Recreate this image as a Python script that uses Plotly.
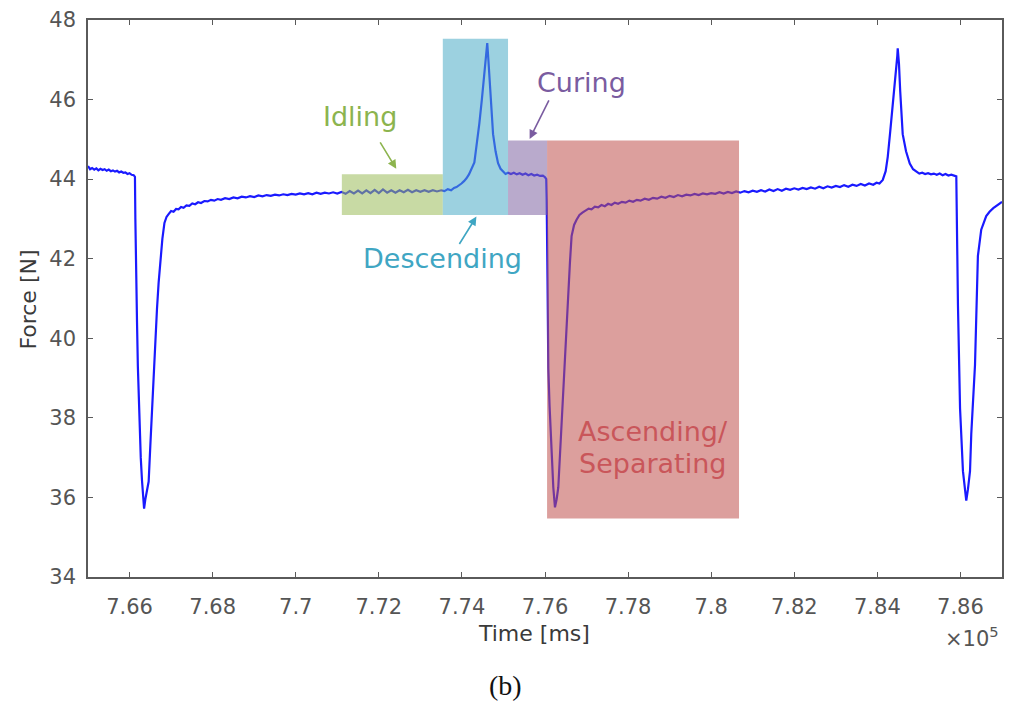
import plotly.graph_objects as go

# Time in units of 10^5 ms, force in N
time_e5ms = [
    7.6500, 7.6505, 7.6510, 7.6515, 7.6520, 7.6525, 7.6530, 7.6535, 7.6540, 7.6545,
    7.6550, 7.6555, 7.6560, 7.6565, 7.6570, 7.6575, 7.6580, 7.6585, 7.6590, 7.6595,
    7.6600, 7.6605, 7.6610, 7.6613, 7.6614, 7.6616, 7.6618, 7.6620, 7.6624, 7.6627,
    7.6630, 7.6633, 7.6635, 7.6638, 7.6642, 7.6646, 7.6650, 7.6654, 7.6660, 7.6666,
    7.6670, 7.6674, 7.6679, 7.6684, 7.6689, 7.6694, 7.6700, 7.6706, 7.6712, 7.6718,
    7.6724, 7.6730, 7.6737, 7.6744, 7.6751, 7.6758, 7.6765, 7.6772, 7.6780, 7.6788,
    7.6796, 7.6804, 7.6812, 7.6820, 7.6830, 7.6840, 7.6850, 7.6860, 7.6870, 7.6880,
    7.6890, 7.6900, 7.6910, 7.6920, 7.6930, 7.6940, 7.6950, 7.6960, 7.6970, 7.6980,
    7.6990, 7.7000, 7.7010, 7.7020, 7.7030, 7.7040, 7.7050, 7.7060, 7.7070, 7.7080,
    7.7090, 7.7100, 7.7110, 7.7120, 7.7130, 7.7140, 7.7150, 7.7160, 7.7170, 7.7180,
    7.7190, 7.7200, 7.7210, 7.7220, 7.7230, 7.7240, 7.7250, 7.7260, 7.7270, 7.7280,
    7.7290, 7.7300, 7.7310, 7.7320, 7.7330, 7.7340, 7.7350, 7.7358, 7.7366, 7.7374,
    7.7381, 7.7387, 7.7393, 7.7399, 7.7405, 7.7411, 7.7417, 7.7423, 7.7430, 7.7434,
    7.7438, 7.7442, 7.7448, 7.7453, 7.7458, 7.7461, 7.7464, 7.7468, 7.7471, 7.7475,
    7.7481, 7.7487, 7.7493, 7.7499, 7.7505, 7.7511, 7.7518, 7.7525, 7.7532, 7.7539,
    7.7546, 7.7553, 7.7560, 7.7567, 7.7574, 7.7581, 7.7588, 7.7595, 7.7600, 7.7603,
    7.7604, 7.7606, 7.7608, 7.7611, 7.7615, 7.7620, 7.7624, 7.7628, 7.7632, 7.7637,
    7.7644, 7.7650, 7.7656, 7.7660, 7.7664, 7.7670, 7.7676, 7.7683, 7.7690, 7.7697,
    7.7705, 7.7712, 7.7720, 7.7728, 7.7736, 7.7744, 7.7752, 7.7760, 7.7768, 7.7776,
    7.7785, 7.7794, 7.7803, 7.7812, 7.7821, 7.7830, 7.7840, 7.7850, 7.7860, 7.7870,
    7.7880, 7.7890, 7.7900, 7.7910, 7.7920, 7.7930, 7.7940, 7.7950, 7.7960, 7.7970,
    7.7980, 7.7990, 7.8000, 7.8010, 7.8020, 7.8030, 7.8040, 7.8050, 7.8060, 7.8070,
    7.8080, 7.8090, 7.8100, 7.8110, 7.8120, 7.8130, 7.8140, 7.8150, 7.8160, 7.8170,
    7.8180, 7.8190, 7.8200, 7.8210, 7.8220, 7.8230, 7.8240, 7.8250, 7.8260, 7.8270,
    7.8280, 7.8290, 7.8300, 7.8310, 7.8320, 7.8330, 7.8340, 7.8350, 7.8360, 7.8370,
    7.8380, 7.8390, 7.8398, 7.8405, 7.8413, 7.8420, 7.8425, 7.8431, 7.8437, 7.8445,
    7.8448, 7.8449, 7.8452, 7.8455, 7.8461, 7.8469, 7.8478, 7.8486, 7.8494, 7.8501,
    7.8508, 7.8515, 7.8522, 7.8529, 7.8536, 7.8543, 7.8550, 7.8557, 7.8564, 7.8571,
    7.8578, 7.8585, 7.8590, 7.8594, 7.8599, 7.8606, 7.8611, 7.8614, 7.8618, 7.8623,
    7.8626, 7.8635, 7.8642, 7.8650, 7.8662, 7.8670, 7.8679, 7.8688, 7.8697, 7.8700,
]

force_n = [
    44.33, 44.25, 44.28, 44.24, 44.27, 44.22, 44.26, 44.23, 44.25, 44.21,
    44.24, 44.20, 44.22, 44.19, 44.21, 44.17, 44.19, 44.16, 44.17, 44.13,
    44.15, 44.11, 44.10, 44.06, 43.00, 41.20, 40.40, 39.30, 37.74, 37.00,
    36.42, 36.00, 35.72, 35.95, 36.20, 36.40, 37.30, 38.23, 39.60, 40.73,
    41.40, 41.97, 42.50, 42.90, 43.05, 43.12, 43.20, 43.18, 43.25, 43.24,
    43.30, 43.28, 43.34, 43.33, 43.39, 43.37, 43.42, 43.40, 43.45, 43.44,
    43.48, 43.46, 43.50, 43.48, 43.52, 43.50, 43.54, 43.52, 43.56, 43.54,
    43.57, 43.55, 43.59, 43.57, 43.60, 43.58, 43.61, 43.59, 43.62, 43.60,
    43.63, 43.61, 43.64, 43.62, 43.65, 43.62, 43.66, 43.63, 43.66, 43.64,
    43.67, 43.64, 43.68, 43.63, 43.70, 43.64, 43.71, 43.64, 43.72, 43.65,
    43.73, 43.65, 43.74, 43.66, 43.72, 43.66, 43.72, 43.67, 43.73, 43.67,
    43.72, 43.68, 43.72, 43.68, 43.72, 43.69, 43.72, 43.70, 43.75, 43.72,
    43.78, 43.80, 43.84, 43.89, 43.95, 44.02, 44.12, 44.25, 44.42, 44.75,
    45.05, 45.40, 46.00, 46.63, 47.10, 47.42, 46.95, 46.21, 45.60, 45.13,
    44.70, 44.40, 44.26, 44.18, 44.13, 44.16, 44.13, 44.16, 44.12, 44.15,
    44.11, 44.14, 44.10, 44.13, 44.09, 44.11, 44.08, 44.09, 44.05, 44.00,
    43.50, 41.50, 39.24, 38.30, 37.30, 36.25, 35.75, 35.95, 36.25, 37.30,
    38.74, 40.00, 41.23, 41.90, 42.57, 42.85, 42.98, 43.10, 43.16, 43.21,
    43.26, 43.24, 43.31, 43.29, 43.35, 43.32, 43.38, 43.35, 43.41, 43.38,
    43.43, 43.41, 43.46, 43.43, 43.48, 43.46, 43.51, 43.48, 43.53, 43.51,
    43.56, 43.53, 43.58, 43.55, 43.60, 43.57, 43.61, 43.59, 43.63, 43.60,
    43.64, 43.62, 43.65, 43.63, 43.67, 43.64, 43.68, 43.65, 43.69, 43.66,
    43.70, 43.67, 43.71, 43.68, 43.72, 43.69, 43.74, 43.70, 43.75, 43.71,
    43.76, 43.73, 43.77, 43.74, 43.78, 43.75, 43.79, 43.76, 43.81, 43.77,
    43.82, 43.79, 43.83, 43.80, 43.85, 43.81, 43.86, 43.83, 43.88, 43.84,
    43.89, 43.86, 43.91, 43.89, 43.98, 44.20, 44.56, 45.20, 45.81, 46.63,
    47.10, 47.29, 46.90, 46.21, 45.13, 44.70, 44.39, 44.25, 44.18, 44.14,
    44.16, 44.13, 44.15, 44.12, 44.14, 44.11, 44.14, 44.10, 44.13, 44.09,
    44.11, 44.09, 44.07, 40.83, 38.24, 36.66, 36.10, 35.92, 36.20, 36.66,
    37.59, 39.33, 42.07, 42.73, 43.07, 43.18, 43.27, 43.34, 43.42, 43.43,
]

x_tick_vals = [7.66, 7.68, 7.70, 7.72, 7.74, 7.76, 7.78, 7.80, 7.82, 7.84, 7.86]
x_tick_text = ["7.66", "7.68", "7.7", "7.72", "7.74", "7.76", "7.78", "7.8", "7.82", "7.84", "7.86"]
y_tick_vals = [34, 36, 38, 40, 42, 44, 46, 48]

# Phase boxes: name, t0, t1, F0, F1
phase_names = ["Idling", "Descending", "Curing", "Ascending/Separating"]
phase_t0 = [7.7111, 7.7354, 7.7511, 7.7605]
phase_t1 = [7.7354, 7.7511, 7.7605, 7.8067]
phase_f0 = [43.10, 43.10, 43.10, 35.47]
phase_f1 = [44.12, 47.53, 44.97, 44.97]
phase_fill = ["#9bbb59", "#4bacc6", "#8064a2", "#c0504d"]
phase_text = ["#8cb44e", "#3fa6c3", "#7a5ca0", "#c9565a"]

FONT = "DejaVu Sans"
AX = "#5a5a5a"

fig = go.Figure()
fig.add_trace(go.Scatter(x=time_e5ms, y=force_n, mode="lines",
                         line=dict(color="#1a1aff", width=2.2), showlegend=False))

for i in range(len(phase_names)):
    fig.add_shape(type="rect", xref="x", yref="y",
                  x0=phase_t0[i], x1=phase_t1[i], y0=phase_f0[i], y1=phase_f1[i],
                  fillcolor=phase_fill[i], opacity=0.55, line=dict(width=0), layer="above")

ann = []
# labels
ann.append(dict(x=7.7155, y=45.58, text="Idling", font=dict(color=phase_text[0])))
ann.append(dict(x=7.7353, y=42.0, text="Descending", font=dict(color=phase_text[1])))
ann.append(dict(x=7.7688, y=46.43, text="Curing", font=dict(color=phase_text[2])))
ann.append(dict(x=7.7860, y=37.66, text="Ascending/", font=dict(color=phase_text[3])))
ann.append(dict(x=7.7858, y=36.86, text="Separating", font=dict(color=phase_text[3])))
for a in ann:
    a.update(xref="x", yref="y", showarrow=False)
    a["font"].update(family=FONT, size=27)

# arrows
arrows = [
    (7.7242, 44.26, -17, -28, phase_text[0]),
    (7.7435, 43.06, -18, 29, phase_text[1]),
    (7.7563, 45.01, 20, -40, phase_text[2]),
]
for (x, y, ax, ay, c) in arrows:
    ann.append(dict(x=x, y=y, xref="x", yref="y", ax=ax, ay=ay, text="",
                    showarrow=True, arrowhead=2, arrowsize=1.1, arrowwidth=1.6,
                    arrowcolor=c))

# axis titles etc. (pixel placement, converted below)
ann.append(dict(x=535, y=634, text="Time [ms]", showarrow=False,
                font=dict(family=FONT, size=22, color="#3a3a3a")))
ann.append(dict(x=28, y=297, text="Force [N]", textangle=-90, showarrow=False,
                font=dict(family=FONT, size=22, color="#3a3a3a")))
ann.append(dict(x=974, y=638, text="×10<sup>5</sup>", showarrow=False,
                font=dict(family=FONT, size=21, color="#555555")))
ann.append(dict(x=506, y=686, text="(b)", showarrow=False,
                font=dict(family="Liberation Serif", size=28, color="#111111")))

L, R, T, B = 88, 1004, 15, 577
W, H = 1012, 708
for a in ann[-4:]:
    px, py = a["x"], a["y"]
    a["x"] = (px - L) / (R - L)
    a["y"] = (B - py) / (B - T)
    a["xref"] = "paper"
    a["yref"] = "paper"
    a["xanchor"] = "center"
    a["yanchor"] = "middle"

fig.update_layout(
    width=W, height=H,
    margin=dict(l=L, r=W - R, t=T, b=H - B),
    paper_bgcolor="white", plot_bgcolor="white",
    annotations=ann,
    xaxis=dict(range=[7.65, 7.87], tickvals=x_tick_vals, ticktext=x_tick_text,
               ticks="inside", ticklen=5, tickwidth=1.2, tickcolor=AX,
               showline=True, linecolor=AX, linewidth=1.5, mirror="ticks",
               showgrid=False, zeroline=False, ticklabelstandoff=10,
               tickfont=dict(family=FONT, size=21, color="#555555")),
    yaxis=dict(range=[34, 48], tickvals=y_tick_vals,
               ticks="inside", ticklen=5, tickwidth=1.2, tickcolor=AX,
               showline=True, linecolor=AX, linewidth=1.5, mirror="ticks",
               showgrid=False, zeroline=False, ticklabelstandoff=6,
               tickfont=dict(family=FONT, size=21, color="#555555")),
)

fig.write_html("out.html")
